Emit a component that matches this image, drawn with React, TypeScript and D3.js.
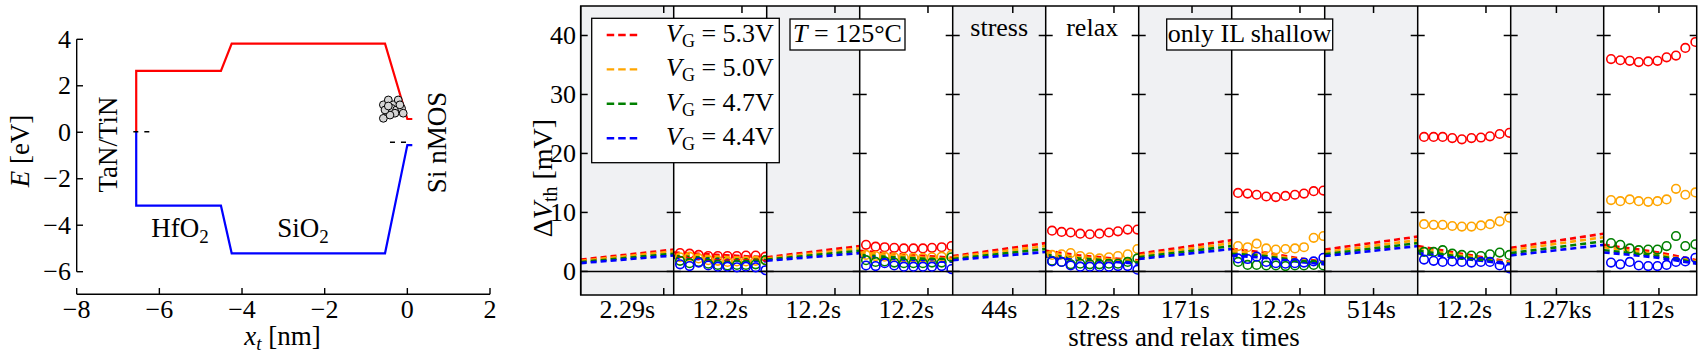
import * as d3 from "d3";

// ---- left panel: band diagram ----
const bandX = [-6.56, -6.56, -4.51, -4.25, -0.54, 0, 0.12];
const condE = [0.05, 2.64, 2.64, 3.81, 3.81, 0.57, 0.57];
const valE = [0.05, -3.16, -3.16, -5.21, -5.21, -0.55, -0.55];
const trapX = [-0.58, -0.58, -0.46, -0.34, -0.22, -0.5, -0.38, -0.26, -0.14, -0.1, -0.3, -0.42, -0.54, -0.18, -0.46];
const trapE = [0.6, 1.18, 1.39, 1.18, 1.39, 0.89, 1.03, 0.96, 1.03, 0.82, 0.82, 0.74, 0.96, 1.18, 1.13];
const leftXTicks = [-8, -6, -4, -2, 0, 2];
const leftYTicks = [4, 2, 0, -2, -4, -6];

// ---- right panel: stress / relax sequence ----
const segLabels = ["2.29s", "12.2s", "12.2s", "12.2s", "44s", "12.2s", "171s", "12.2s", "514s", "12.2s", "1.27ks", "112s"];
const segDurations = [2.29, 12.2, 12.2, 12.2, 44, 12.2, 171, 12.2, 514, 12.2, 1270, 112];
const rightYTicks = [0, 10, 20, 30, 40];
const seriesNames = ["5.3V", "5.0V", "4.7V", "4.4V"];
const seriesColors = ["#ff0000", "#ffa500", "#008000", "#0000ff"];

// measurement times within a relax phase
const measTimes12 = [0.0019, 0.005, 0.0125, 0.033, 0.087, 0.23, 0.6, 1.5, 4, 10.7];
const measTimes112 = [0.0025, 0.008, 0.026, 0.08, 0.26, 0.83, 2.6, 8.4, 27, 95];
const modelRelaxTimes = [0.001, 0.03, 1]; // + end of phase

// measured dVth, one row per relax phase (segments 1,3,5,7,9,11)
const measRed = [
  [3.1, 3.0, 2.8, 2.6, 2.6, 2.6, 2.6, 2.7, 2.7, 2.5],
  [4.5, 4.2, 4.1, 4.0, 3.9, 3.9, 3.9, 4.0, 4.1, 4.3],
  [6.9, 6.7, 6.6, 6.4, 6.3, 6.4, 6.6, 6.8, 7.1, 7.1],
  [13.3, 13.2, 13.0, 12.7, 12.6, 12.8, 13.0, 13.2, 13.6, 13.7],
  [22.8, 22.8, 22.8, 22.6, 22.4, 22.6, 22.7, 22.9, 23.3, 23.5],
  [36.0, 35.8, 35.7, 35.5, 35.6, 35.7, 36.3, 36.6, 37.9, 38.9],
];
const measOrange = [
  [2.4, 2.5, 2.2, 1.9, 1.8, 1.6, 1.7, 1.7, 1.8, 1.9],
  [2.8, 2.6, 2.5, 2.4, 2.3, 2.3, 2.3, 2.4, 2.5, 2.8],
  [2.8, 2.9, 3.1, 2.6, 2.4, 2.2, 2.4, 2.6, 2.9, 3.8],
  [4.3, 4.1, 4.7, 3.9, 3.7, 3.8, 3.9, 4.1, 5.7, 6.0],
  [8.0, 7.9, 7.9, 7.7, 7.6, 7.6, 7.8, 8.0, 8.5, 9.1],
  [12.1, 11.9, 12.2, 11.9, 11.8, 11.9, 12.2, 14.0, 13.0, 13.4],
];
const measGreen = [
  [1.8, 1.4, 1.6, 1.3, 1.1, 1.0, 1.1, 1.1, 1.2, 1.9],
  [1.9, 1.6, 1.7, 1.5, 1.4, 1.4, 1.4, 1.5, 1.5, 2.4],
  [1.8, 1.6, 1.2, 1.3, 1.2, 1.2, 1.3, 1.3, 1.6, 2.2],
  [1.6, 1.1, 1.1, 1.0, 1.0, 0.9, 1.0, 1.0, 1.1, 1.0],
  [3.3, 3.3, 3.6, 3.0, 2.8, 2.7, 2.6, 2.9, 3.2, 2.8],
  [4.8, 4.5, 3.9, 3.6, 3.7, 3.7, 4.3, 6.0, 4.3, 4.6],
];
const measBlue = [
  [1.2, 0.9, 1.5, 1.0, 0.8, 0.8, 0.7, 0.8, 0.7, 0.2],
  [1.0, 0.9, 1.4, 1.0, 0.8, 0.8, 0.8, 0.8, 0.9, 0.4],
  [1.7, 1.6, 1.0, 0.8, 0.8, 0.8, 0.8, 0.9, 0.9, 0.3],
  [2.2, 2.1, 2.5, 1.6, 1.4, 1.3, 1.4, 1.5, 1.7, 2.3],
  [2.0, 1.8, 1.6, 1.7, 1.6, 1.5, 1.6, 1.6, 1.0, 0.5],
  [1.5, 1.2, 1.6, 1.0, 0.9, 0.9, 1.1, 1.6, 1.7, 2.3],
];

// model, stress phases (segments 0,2,...,10): [start, end]
const stressRed = [[2.0, 3.7], [2.4, 4.3], [2.6, 4.8], [3.0, 5.3], [3.7, 5.9], [4.0, 6.4]];
const stressOrange = [[1.8, 3.4], [2.2, 3.9], [2.4, 4.3], [2.7, 4.8], [3.3, 5.3], [3.6, 5.8]];
const stressGreen = [[1.6, 3.0], [2.0, 3.5], [2.1, 3.8], [2.4, 4.3], [2.9, 4.8], [3.1, 5.1]];
const stressBlue = [[1.4, 2.7], [1.8, 3.1], [1.9, 3.3], [2.1, 3.8], [2.6, 4.3], [2.7, 4.5]];

// model, relax phases at modelRelaxTimes + end
const relaxRed = [[3.2, 2.9, 2.6, 2.4], [3.5, 3.0, 2.6, 2.3], [3.5, 2.7, 2.2, 1.9], [3.8, 3.2, 2.2, 1.6], [4.3, 3.3, 2.3, 1.6], [4.5, 3.9, 3.2, 1.9]];
const relaxOrange = [[2.9, 2.6, 2.3, 2.2], [3.2, 2.7, 2.3, 2.1], [3.2, 2.4, 2.0, 1.7], [3.4, 2.9, 2.0, 1.5], [3.9, 3.0, 2.1, 1.5], [4.1, 3.5, 2.9, 1.7]];
const relaxGreen = [[2.6, 2.3, 2.1, 1.9], [2.8, 2.4, 2.1, 1.9], [2.8, 2.2, 1.8, 1.5], [3.0, 2.6, 1.8, 1.3], [3.5, 2.7, 1.9, 1.3], [3.6, 3.1, 2.6, 1.5]];
const relaxBlue = [[2.3, 2.0, 1.8, 1.7], [2.5, 2.1, 1.8, 1.6], [2.5, 1.9, 1.6, 1.3], [2.7, 2.3, 1.6, 1.2], [3.1, 2.4, 1.7, 1.2], [3.2, 2.8, 2.3, 1.3]];

const measAll = [measRed, measOrange, measGreen, measBlue];
const stressAll = [stressRed, stressOrange, stressGreen, stressBlue];
const relaxAll = [relaxRed, relaxOrange, relaxGreen, relaxBlue];

const FONT = "'Liberation Serif', 'Times New Roman', serif";
const FS = 26;

function LeftPanel() {
  const x = d3.scaleLinear().domain([-8, 2]).range([76.7, 490]);
  const y = d3.scaleLinear().domain([-6, 4]).range([271.7, 39.3]);
  const line = d3.line<number>().x((_, i) => x(bandX[i])).y((d) => y(d));
  return (
    <g>
      <path d={line(condE) || ""} fill="none" stroke="#ff0000" strokeWidth={2.2} />
      <path d={line(valE) || ""} fill="none" stroke="#0000ff" strokeWidth={2.2} />
      {/* Fermi levels */}
      <line x1={x(-6.63)} x2={x(-6.2)} y1={y(0.02)} y2={y(0.02)} stroke="#000" strokeWidth={1.5} strokeDasharray="5,6" />
      <line x1={x(-0.42)} x2={x(0)} y1={y(-0.43)} y2={y(-0.43)} stroke="#000" strokeWidth={1.5} strokeDasharray="5,6" />
      {trapX.map((tx, i) => (
        <circle key={i} cx={x(tx)} cy={y(trapE[i])} r={3.9} fill="#d4d4d4" stroke="#000" strokeWidth={1} />
      ))}
      {/* spines */}
      <line x1={x(-8)} x2={x(2)} y1={294.3} y2={294.3} stroke="#000" strokeWidth={1.4} />
      <line x1={76.7} x2={76.7} y1={y(4)} y2={y(-6)} stroke="#000" strokeWidth={1.4} />
      {leftXTicks.map((t) => (
        <g key={t}>
          <line x1={x(t)} x2={x(t)} y1={294.3} y2={288} stroke="#000" strokeWidth={1.4} />
          <text x={x(t)} y={318} textAnchor="middle" fontSize={FS}>
            {t < 0 ? "\u2212" + Math.abs(t) : t}
          </text>
        </g>
      ))}
      {leftYTicks.map((t) => (
        <g key={t}>
          <line x1={76.7} x2={83} y1={y(t)} y2={y(t)} stroke="#000" strokeWidth={1.4} />
          <text x={71} y={y(t) + 8.5} textAnchor="end" fontSize={FS}>
            {t < 0 ? "\u2212" + Math.abs(t) : t}
          </text>
        </g>
      ))}
      <text transform="translate(29,151) rotate(-90)" textAnchor="middle" fontSize={FS + 1}>
        <tspan fontStyle="italic">E</tspan> [eV]
      </text>
      <text x={282.5} y={345} textAnchor="middle" fontSize={FS + 1}>
        <tspan fontStyle="italic">x</tspan>
        <tspan fontStyle="italic" fontSize={19} dy={5}>t</tspan>
        <tspan dy={-5}> [nm]</tspan>
      </text>
      <text transform="translate(117,144.5) rotate(-90)" textAnchor="middle" fontSize={FS + 1}>TaN/TiN</text>
      <text transform="translate(446,142.5) rotate(-90)" textAnchor="middle" fontSize={FS + 1}>Si nMOS</text>
      <text x={180} y={236.7} textAnchor="middle" fontSize={FS + 1}>
        HfO<tspan fontSize={19} dy={6}>2</tspan>
      </text>
      <text x={303} y={236.7} textAnchor="middle" fontSize={FS + 1}>
        SiO<tspan fontSize={19} dy={6}>2</tspan>
      </text>
    </g>
  );
}

function RightPanel() {
  const left = 580.7;
  const right = 1696.7;
  const top = 6;
  const bottom = 295;
  const seg = d3.scaleLinear().domain([0, segLabels.length]).range([left, right]);
  const y = d3.scaleLinear().domain([-4, 45]).range([bottom, top]);
  const tScale = (i: number) =>
    d3.scaleLog().domain([1e-3, segDurations[i]]).range([seg(i), seg(i + 1)]);
  const dash = "6,4";
  const relaxIdx = segLabels.map((_, i) => i).filter((i) => i % 2 === 1);
  const stressIdx = segLabels.map((_, i) => i).filter((i) => i % 2 === 0);

  return (
    <g>
      <defs>
        {segLabels.map((_, i) => (
          <clipPath key={i} id={`seg${i}`}>
            <rect x={seg(i)} y={top} width={seg(i + 1) - seg(i)} height={bottom - top} />
          </clipPath>
        ))}
      </defs>
      {stressIdx.map((i) => (
        <rect key={i} x={seg(i)} y={top} width={seg(i + 1) - seg(i)} height={bottom - top} fill="#f0f1f3" />
      ))}
      <line x1={left} x2={right} y1={y(0)} y2={y(0)} stroke="#000" strokeWidth={1.5} />

      {/* model lines, stress */}
      {stressIdx.map((i, k) => {
        const ts = tScale(i);
        return (
          <g key={"s" + i} clipPath={`url(#seg${i})`}>
            {stressAll.map((ser, c) => (
              <line key={c} x1={ts(1e-3)} x2={ts(segDurations[i])} y1={y(ser[k][0])} y2={y(ser[k][1])}
                stroke={seriesColors[c]} strokeWidth={2.6} strokeDasharray={dash} />
            ))}
          </g>
        );
      })}
      {/* model lines + measurements, relax */}
      {relaxIdx.map((i, k) => {
        const ts = tScale(i);
        const times = [...modelRelaxTimes, segDurations[i]];
        const mt = segDurations[i] > 100 ? measTimes112 : measTimes12;
        const line = d3.line<number>().x((_, j) => ts(times[j])).y((d) => y(d));
        return (
          <g key={"r" + i} clipPath={`url(#seg${i})`}>
            {relaxAll.map((ser, c) => (
              <path key={c} d={line(ser[k]) || ""} fill="none" stroke={seriesColors[c]} strokeWidth={2.6} strokeDasharray={dash} />
            ))}
            {measAll.map((ser, c) =>
              ser[k].map((v, j) => (
                <circle key={c + "-" + j} cx={ts(mt[j])} cy={y(v)} r={4.3} fill="none" stroke={seriesColors[c]} strokeWidth={1.6} />
              ))
            )}
          </g>
        );
      })}

      {/* frame, dividers and ticks */}
      <rect x={left} y={top} width={right - left} height={bottom - top} fill="none" stroke="#000" strokeWidth={1.5} />
      {segLabels.map((lab, i) => {
        const ts = tScale(i);
        return (
          <g key={"f" + i}>
            <line x1={seg(i)} x2={seg(i)} y1={top} y2={bottom} stroke="#000" strokeWidth={1.5} />
            {rightYTicks.map((t) => (
              <g key={t}>
                <line x1={seg(i)} x2={seg(i) + 7} y1={y(t)} y2={y(t)} stroke="#000" strokeWidth={1.5} />
                <line x1={seg(i + 1) - 7} x2={seg(i + 1)} y1={y(t)} y2={y(t)} stroke="#000" strokeWidth={1.5} />
              </g>
            ))}
            <line x1={ts(1)} x2={ts(1)} y1={top} y2={top + 7} stroke="#000" strokeWidth={1.5} />
            <line x1={ts(1)} x2={ts(1)} y1={bottom} y2={bottom - 7} stroke="#000" strokeWidth={1.5} />
            <text x={(seg(i) + seg(i + 1)) / 2} y={318} textAnchor="middle" fontSize={FS}>{lab}</text>
          </g>
        );
      })}
      {rightYTicks.map((t) => (
        <text key={t} x={576} y={y(t) + 9} textAnchor="end" fontSize={FS}>{t}</text>
      ))}
      <text transform="translate(552,178) rotate(-90)" textAnchor="middle" fontSize={FS + 2}>
        {"\u0394"}<tspan fontStyle="italic">V</tspan>
        <tspan fontSize={20} dy={5}>th</tspan>
        <tspan dy={-5}> [mV]</tspan>
      </text>
      <text x={1184} y={346} textAnchor="middle" fontSize={FS + 1}>stress and relax times</text>

      {/* legend */}
      <rect x={591.7} y={18.3} width={187.6} height={144.4} fill="#fff" stroke="#000" strokeWidth={1.3} />
      {seriesNames.map((n, c) => {
        const cy = 35 + c * 34.4;
        return (
          <g key={n}>
            <line x1={606.7} x2={638.3} y1={cy} y2={cy} stroke={seriesColors[c]} strokeWidth={2.4} strokeDasharray="7.5,4" />
            <text x={666} y={cy + 7} fontSize={FS}>
              <tspan fontStyle="italic">V</tspan>
              <tspan fontSize={18} dy={5}>G</tspan>
              <tspan dy={-5}> = {n}</tspan>
            </text>
          </g>
        );
      })}
      <rect x={790} y={19} width={115} height={31} fill="#fff" stroke="#000" strokeWidth={1.3} />
      <text x={847.5} y={42} textAnchor="middle" fontSize={FS}>
        <tspan fontStyle="italic">T</tspan> = 125°C
      </text>
      <text x={(seg(4) + seg(5)) / 2} y={36} textAnchor="middle" fontSize={FS}>stress</text>
      <text x={(seg(5) + seg(6)) / 2} y={36} textAnchor="middle" fontSize={FS}>relax</text>
      <rect x={1166.7} y={19} width={166} height={31} fill="#fff" stroke="#000" strokeWidth={1.3} />
      <text x={1249.7} y={42} textAnchor="middle" fontSize={FS}>only IL shallow</text>
    </g>
  );
}

export default function App() {
  return (
    <svg
      width={1703}
      height={363}
      style={{ position: "absolute", left: 0, top: 0, background: "#fff" }}
      fontFamily={FONT}
    >
      <rect width={1703} height={363} fill="#fff" />
      <LeftPanel />
      <RightPanel />
    </svg>
  );
}
